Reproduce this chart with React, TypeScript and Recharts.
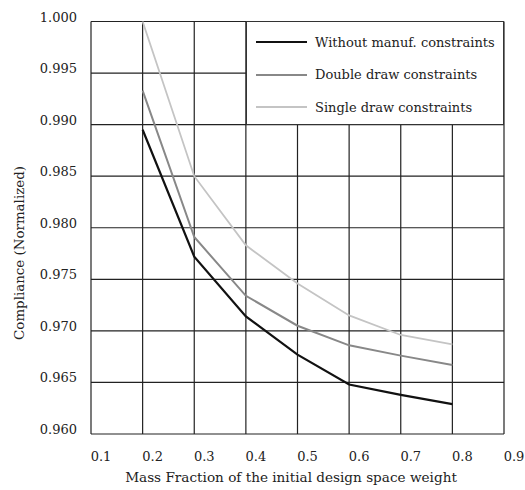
import { LineChart, Line, XAxis, YAxis, CartesianGrid, Legend, Label } from 'recharts';

const massFraction = [0.2, 0.3, 0.4, 0.5, 0.6, 0.7, 0.8];
const withoutManuf = [0.9895, 0.9772, 0.9714, 0.9677, 0.9648, 0.9638, 0.9629];
const doubleDraw = [0.9933, 0.9791, 0.9734, 0.9705, 0.9686, 0.9676, 0.9667];
const singleDraw = [1.0, 0.985, 0.9783, 0.9746, 0.9715, 0.9696, 0.9687];

const seriesKeys = ['without', 'double', 'single'];
const seriesNames = ['Without manuf. constraints', 'Double draw constraints', 'Single draw constraints'];

const xTicks = [0.1, 0.2, 0.3, 0.4, 0.5, 0.6, 0.7, 0.8, 0.9];
const yTicks = [0.96, 0.965, 0.97, 0.975, 0.98, 0.985, 0.99, 0.995, 1.0];

const data = massFraction.map((m, i) => ({
  m,
  without: withoutManuf[i],
  double: doubleDraw[i],
  single: singleDraw[i],
}));

const FONT = '"DejaVu Serif", serif';
const TEXT = '#222';
const COLORS: Record<string, string> = { without: '#111', double: '#888', single: '#c4c4c4' };
const WIDTHS: Record<string, number> = { without: 2.2, double: 2, single: 1.8 };

function XTick({ x, y, payload }: any) {
  return (
    <text x={x + 10} y={y + 27} textAnchor="middle" fontFamily={FONT} fontSize={13} fill={TEXT}>
      {payload.value.toFixed(1)}
    </text>
  );
}

function YTick({ x, y, payload }: any) {
  return (
    <text x={x - 14} y={y} textAnchor="end" fontFamily={FONT} fontSize={13} fill={TEXT}>
      {payload.value.toFixed(3)}
    </text>
  );
}

// own legend so the order stays as drawn (recharts sorts by name)
function LegendBox() {
  return (
    <div
      style={{
        boxSizing: 'border-box',
        width: 258,
        height: 104,
        background: '#fff',
        border: '1.3px solid #333',
        paddingTop: 4,
        fontFamily: FONT,
        fontSize: 13,
        color: TEXT,
      }}
    >
      {seriesKeys.map((k, i) => (
        <div key={k} style={{ display: 'flex', alignItems: 'center', height: 32.5 }}>
          <div style={{ width: 51, height: WIDTHS[k], background: COLORS[k], marginLeft: 9, marginRight: 8 }} />
          <span>{seriesNames[i]}</span>
        </div>
      ))}
    </div>
  );
}

export default function App() {
  return (
    <div style={{ position: 'absolute', left: 0, top: 0, background: '#fff' }}>
      <LineChart width={525} height={490} data={data} margin={{ top: 21.5, right: 21, left: 0, bottom: 26 }}>
        <CartesianGrid stroke="#222" strokeWidth={1.2} />
        <XAxis
          dataKey="m"
          type="number"
          domain={[0.1, 0.9]}
          ticks={xTicks}
          tick={<XTick />}
          tickLine={false}
          axisLine={false}
          tickSize={0}
          tickMargin={0}
          height={30}
        >
          <Label
            content={() => (
              <text x={291} y={482} textAnchor="middle" fontFamily={FONT} fontSize={13.6} fill={TEXT}>
                Mass Fraction of the initial design space weight
              </text>
            )}
          />
        </XAxis>
        <YAxis
          type="number"
          domain={[0.96, 1.0]}
          ticks={yTicks}
          tick={<YTick />}
          tickLine={false}
          axisLine={false}
          tickSize={0}
          tickMargin={0}
          width={91}
        >
          <Label
            content={() => (
              <text
                x={24}
                y={253}
                transform="rotate(-90 24 253)"
                textAnchor="middle"
                fontFamily={FONT}
                fontSize={13.4}
                fill={TEXT}
              >
                Compliance (Normalized)
              </text>
            )}
          />
        </YAxis>
        <Legend
          layout="horizontal"
          verticalAlign="middle"
          align="center"
          content={<LegendBox />}
          wrapperStyle={{ left: 246, top: 21, width: 258, height: 104 }}
        />
        {seriesKeys.map((k, i) => (
          <Line
            key={k}
            type="linear"
            dataKey={k}
            name={seriesNames[i]}
            stroke={COLORS[k]}
            strokeWidth={WIDTHS[k]}
            dot={false}
            isAnimationActive={false}
          />
        ))}
      </LineChart>
    </div>
  );
}
